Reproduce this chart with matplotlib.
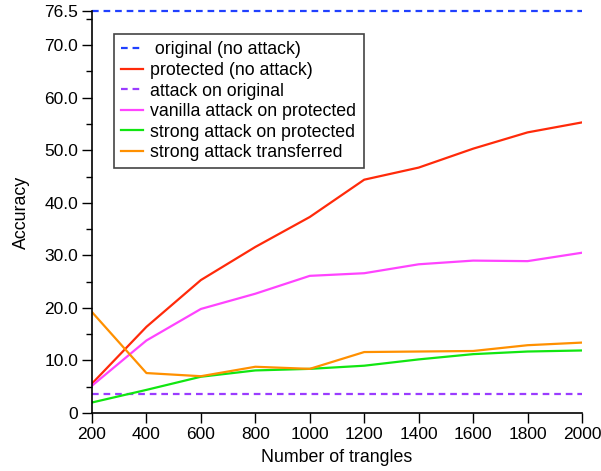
import matplotlib
matplotlib.use("Agg")
import matplotlib.pyplot as plt
from matplotlib.ticker import FixedLocator

plt.rcParams['font.family'] = ['Liberation Sans', 'DejaVu Sans']

triangles = [200, 400, 600, 800, 1000, 1200, 1400, 1600, 1800, 2000]
original_no_attack = 76.5
protected_no_attack = [5.6, 16.4, 25.3, 31.6, 37.3, 44.4, 46.7, 50.3, 53.4, 55.3]
attack_on_original = 3.6
vanilla_attack_protected = [5.2, 13.8, 19.8, 22.7, 26.1, 26.6, 28.3, 29.0, 28.9, 30.5]
strong_attack_protected = [2.0, 4.4, 6.9, 8.1, 8.4, 9.0, 10.2, 11.2, 11.7, 11.9]
strong_attack_transferred = [19.2, 7.6, 7.0, 8.8, 8.4, 11.6, 11.7, 11.8, 12.9, 13.4]

y_ticks = [0, 10, 20, 30, 40, 50, 60, 70, 76.5]
y_tick_labels = ["0", "10.0", "20.0", "30.0", "40.0", "50.0", "60.0", "70.0", "76.5"]
y_minor_ticks = [5, 15, 25, 35, 45, 55, 65, 75]

fig = plt.figure(figsize=(6.01, 4.71), dpi=100)
ax = fig.add_axes([92/601, 58/471, 490/601, 402/471])

lw = 1.6
dash = (0, (3, 2.2))
ax.plot([triangles[0], triangles[-1]], [original_no_attack]*2, color='#2040ff', ls=dash, lw=lw,
        label=' original (no attack)', clip_on=False)
ax.plot(triangles, protected_no_attack, color='#ff2a0a', lw=lw, label='protected (no attack)')
ax.plot([triangles[0], triangles[-1]], [attack_on_original]*2, color='#9a3cff', ls=dash, lw=lw,
        label='attack on original')
ax.plot(triangles, vanilla_attack_protected, color='#ff44ff', lw=lw, label='vanilla attack on protected')
ax.plot(triangles, strong_attack_protected, color='#11e611', lw=lw, label='strong attack on protected')
ax.plot(triangles, strong_attack_transferred, color='#ff9000', lw=lw, label='strong attack transferred')

ax.set_xlim(200, 2000)
ax.set_ylim(0, 76.5)
ax.set_xticks(triangles)
ax.set_yticks(y_ticks)
ax.set_yticklabels(y_tick_labels)
ax.yaxis.set_minor_locator(FixedLocator(y_minor_ticks))
ax.tick_params(axis='both', which='major', direction='out', length=7, width=1, labelsize=12.5,
               colors='black', pad=3)
ax.tick_params(axis='y', which='minor', direction='out', length=4, width=1)
ax.spines['top'].set_visible(False)
ax.spines['right'].set_visible(False)
ax.spines['left'].set_linewidth(1.2)
ax.spines['bottom'].set_linewidth(1.2)

ax.set_xlabel('Number of trangles', fontsize=12.8)
ax.set_ylabel('Accuracy', fontsize=12.8)
ax.xaxis.set_label_coords(0.5, -0.09)
ax.yaxis.set_label_coords(-0.127, 0.5)

leg = ax.legend(loc='upper left', bbox_to_anchor=(0.045, 0.942), fontsize=12.8, frameon=True,
                fancybox=False, edgecolor='#444444', framealpha=1, borderpad=0.4,
                labelspacing=0.2, handlelength=1.25, handletextpad=0.4, borderaxespad=0)
leg.get_frame().set_linewidth(1.2)

fig.savefig('out.png', dpi=100)
